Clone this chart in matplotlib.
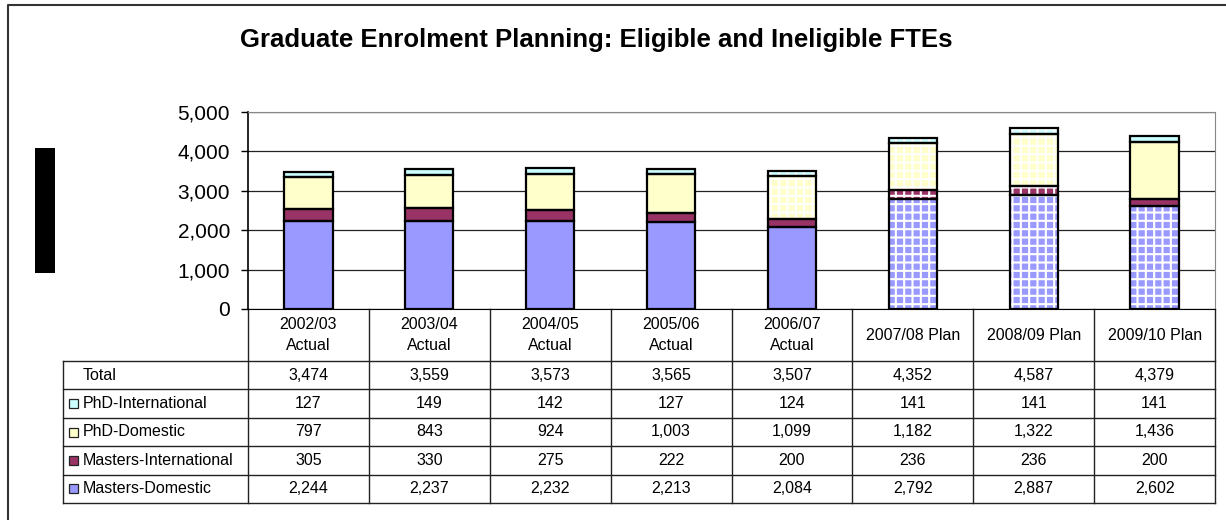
import matplotlib
matplotlib.use('Agg')
import matplotlib.pyplot as plt
from matplotlib.patches import Rectangle
from matplotlib.lines import Line2D
from matplotlib.ticker import FuncFormatter
import numpy as np

plt.rcParams['font.family'] = ['Liberation Sans', 'DejaVu Sans']
plt.rcParams['hatch.linewidth'] = 1.5

# data
years = ['2002/03\nActual', '2003/04\nActual', '2004/05\nActual', '2005/06\nActual',
         '2006/07\nActual', '2007/08 Plan', '2008/09 Plan', '2009/10 Plan']
masters_dom = [2244, 2237, 2232, 2213, 2084, 2792, 2887, 2602]
masters_int = [305, 330, 275, 222, 200, 236, 236, 200]
phd_dom = [797, 843, 924, 1003, 1099, 1182, 1322, 1436]
phd_int = [127, 149, 142, 127, 124, 141, 141, 141]
totals = [3474, 3559, 3573, 3565, 3507, 4352, 4587, 4379]

# name, values, colour, which bars get the white grid
series = [
    ('Masters-Domestic', masters_dom, '#9999ff', [0, 0, 0, 0, 0, 1, 1, 1]),
    ('Masters-International', masters_int, '#993366', [0, 0, 0, 0, 0, 1, 1, 0]),
    ('PhD-Domestic', phd_dom, '#ffffcc', [0, 0, 0, 0, 1, 1, 1, 0]),
    ('PhD-International', phd_int, '#ccffff', [0, 0, 0, 0, 1, 1, 1, 0]),
]

W, H = 1226, 520
fig = plt.figure(figsize=(W / 100, H / 100), dpi=100)

# plot area in pixels
ax_l, ax_r, ax_t, ax_b = 248, 1215, 112, 309
axw = ax_r - ax_l
axh = ax_b - ax_t
ax = fig.add_axes([ax_l / W, 1 - ax_b / H, axw / W, axh / H])

x = np.arange(len(years))
bottom = np.zeros(len(years))
for name, vals, col, hatched in series:
    bars = ax.bar(x, vals, 0.4, bottom=bottom, color=col, edgecolor='white', linewidth=0, zorder=2)
    for p, h in zip(bars.patches, hatched):
        if h:
            p.set_hatch('++')
    ax.bar(x, vals, 0.4, bottom=bottom, fill=False, edgecolor='black', linewidth=1.6, zorder=3)
    bottom += np.array(vals)

ax.set_xlim(-0.5, len(years) - 0.5)
ax.set_ylim(0, 5000)
ax.set_yticks(range(0, 5001, 1000))
ax.yaxis.set_major_formatter(FuncFormatter(lambda v, p: f'{int(v):,}'))
ax.tick_params(axis='y', labelsize=15, length=5, width=1, pad=8)
ax.set_xticks([])
ax.grid(axis='y', color='#222222', linewidth=0.9)
ax.set_axisbelow(True)
for s in ['top', 'right']:
    ax.spines[s].set_color('#888888')
ax.spines['left'].set_linewidth(1.2)

fig.text(596 / W, 1 - 40 / H, 'Graduate Enrolment Planning: Eligible and Ineligible FTEs',
         ha='center', va='center', fontsize=18.5, fontweight='bold')


# data table under the bars, laid out in pixels
def px(xp):
    return (xp - ax_l) / axw


def py(yp):
    return (ax_b - yp) / axh


def tline(xs, ys):
    ax.add_line(Line2D([px(v) for v in xs], [py(v) for v in ys], transform=ax.transAxes,
                       color='#222222', linewidth=1.0, clip_on=False))


lab_l = 63
col_w = axw / len(years)
head_h = 52
row_h = 28.4
rows = [('Total', totals, None)] + [(n, v, c) for n, v, c, _ in series[::-1]]
head_b = ax_b + head_h
tab_b = head_b + row_h * len(rows)

for k in range(len(rows) + 1):
    yk = head_b + row_h * k
    tline([lab_l, ax_r], [yk, yk])
tline([lab_l, lab_l], [head_b, tab_b])
for j in range(len(years) + 1):
    xj = ax_l + col_w * j
    tline([xj, xj], [ax_b, tab_b])

for j, yr in enumerate(years):
    ax.text(px(ax_l + col_w * (j + 0.5)), py(ax_b + head_h / 2), yr, transform=ax.transAxes,
            ha='center', va='center', fontsize=11.5, linespacing=1.55)

for i, (name, vals, col) in enumerate(rows):
    yc = head_b + row_h * (i + 0.5)
    ax.text(px(83), py(yc), name, transform=ax.transAxes, ha='left', va='center', fontsize=11.5)
    for j, v in enumerate(vals):
        ax.text(px(ax_l + col_w * (j + 0.5)), py(yc), f'{v:,}', transform=ax.transAxes,
                ha='center', va='center', fontsize=11.5)
    if col is not None:
        ax.add_patch(Rectangle((px(69), py(yc + 4.5)), 9 / axw, 9 / axh,
                               transform=ax.transAxes, clip_on=False,
                               facecolor=col, edgecolor='#222222', linewidth=0.9))

# black block on the left and the outer frame
fig.add_artist(Rectangle((35 / W, 1 - 273 / H), 20 / W, 125 / H, transform=fig.transFigure,
                         facecolor='black', edgecolor='none'))
fig.add_artist(Line2D([8 / W, 8 / W, 1], [0, 1 - 5 / H, 1 - 5 / H], transform=fig.transFigure,
                      color='#333333', linewidth=1.5))

fig.savefig('out.png', dpi=100)
